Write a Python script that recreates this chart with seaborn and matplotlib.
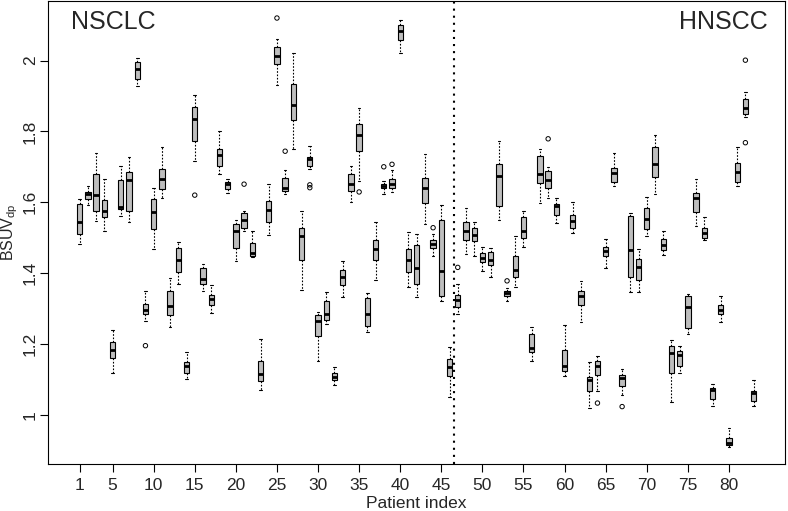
import matplotlib.pyplot as plt
import numpy as np
import pandas as pd
import seaborn as sns


# five-number summaries per patient
patients = np.arange(1, 84)
whisker_low = [1.483, 1.592, 1.547, 1.519, 1.117, 1.561, 1.543, 1.927, 1.264, 1.467,
               1.613, 1.249, 1.369, 1.101, 1.716, 1.350, 1.286, 1.679, 1.627, 1.435,
               1.519, 1.446, 1.070, 1.507, 1.932, 1.622, 1.751, 1.352, 1.693, 1.151,
               1.256, 1.085, 1.333, 1.601, 1.660, 1.235, 1.380, 1.622, 1.630, 2.021,
               1.361, 1.333, 1.538, 1.449, 1.322, 1.050, 1.284, 1.453, 1.449, 1.406,
               1.388, 1.549, 1.322, 1.361, 1.474, 1.153, 1.597, 1.611, 1.540, 1.108,
               1.513, 1.263, 1.019, 1.066, 1.413, 1.646, 1.056, 1.347, 1.347, 1.505,
               1.624, 1.451, 1.036, 1.117, 1.228, 1.533, 1.494, 1.024, 1.261, 0.909,
               1.646, 1.840, 1.024]
q1 = [1.510, 1.610, 1.574, 1.559, 1.159, 1.580, 1.575, 1.948, 1.284, 1.524,
      1.637, 1.282, 1.404, 1.118, 1.774, 1.369, 1.311, 1.702, 1.637, 1.472,
      1.526, 1.449, 1.094, 1.543, 1.989, 1.632, 1.832, 1.437, 1.702, 1.221,
      1.268, 1.099, 1.366, 1.632, 1.744, 1.250, 1.437, 1.639, 1.639, 2.059,
      1.402, 1.369, 1.597, 1.472, 1.336, 1.108, 1.305, 1.494, 1.491, 1.430,
      1.422, 1.588, 1.336, 1.388, 1.498, 1.176, 1.653, 1.639, 1.563, 1.123,
      1.528, 1.311, 1.066, 1.113, 1.447, 1.657, 1.081, 1.388, 1.380, 1.524,
      1.672, 1.465, 1.118, 1.137, 1.245, 1.571, 1.498, 1.045, 1.284, 0.914,
      1.657, 1.848, 1.040]
median = [1.543, 1.624, 1.620, 1.575, 1.184, 1.587, 1.662, 1.976, 1.297, 1.571,
          1.665, 1.306, 1.437, 1.137, 1.836, 1.383, 1.327, 1.732, 1.651, 1.519,
          1.549, 1.456, 1.115, 1.577, 2.012, 1.639, 1.874, 1.505, 1.721, 1.266,
          1.284, 1.106, 1.388, 1.651, 1.789, 1.284, 1.467, 1.645, 1.651, 2.084,
          1.436, 1.413, 1.639, 1.482, 1.405, 1.134, 1.324, 1.519, 1.507, 1.442,
          1.436, 1.674, 1.344, 1.408, 1.519, 1.188, 1.679, 1.662, 1.590, 1.137,
          1.547, 1.336, 1.099, 1.137, 1.461, 1.683, 1.103, 1.465, 1.416, 1.552,
          1.707, 1.480, 1.174, 1.170, 1.305, 1.611, 1.513, 1.070, 1.297, 0.920,
          1.685, 1.867, 1.061]
q3 = [1.594, 1.630, 1.679, 1.606, 1.205, 1.662, 1.685, 1.995, 1.313, 1.610,
      1.693, 1.350, 1.472, 1.148, 1.868, 1.413, 1.338, 1.749, 1.657, 1.538,
      1.569, 1.484, 1.153, 1.604, 2.037, 1.669, 1.934, 1.528, 1.729, 1.282,
      1.320, 1.118, 1.408, 1.679, 1.821, 1.331, 1.493, 1.651, 1.665, 2.099,
      1.467, 1.479, 1.667, 1.493, 1.550, 1.158, 1.339, 1.543, 1.526, 1.456,
      1.460, 1.707, 1.350, 1.449, 1.559, 1.228, 1.730, 1.688, 1.596, 1.183,
      1.564, 1.350, 1.106, 1.153, 1.474, 1.696, 1.113, 1.561, 1.439, 1.585,
      1.757, 1.496, 1.195, 1.179, 1.336, 1.627, 1.528, 1.075, 1.310, 0.935,
      1.710, 1.892, 1.068]
whisker_high = [1.610, 1.646, 1.738, 1.665, 1.239, 1.702, 1.728, 2.007, 1.350, 1.641,
                1.757, 1.386, 1.489, 1.176, 1.902, 1.425, 1.366, 1.801, 1.665, 1.549,
                1.575, 1.519, 1.214, 1.652, 2.062, 1.691, 2.021, 1.574, 1.759, 1.289,
                1.347, 1.134, 1.433, 1.702, 1.867, 1.345, 1.543, 1.660, 1.690, 2.115,
                1.517, 1.510, 1.735, 1.511, 1.592, 1.190, 1.369, 1.585, 1.545, 1.474,
                1.470, 1.774, 1.359, 1.505, 1.575, 1.249, 1.751, 1.700, 1.611, 1.254,
                1.601, 1.378, 1.150, 1.167, 1.496, 1.740, 1.129, 1.569, 1.469, 1.615,
                1.789, 1.519, 1.211, 1.195, 1.341, 1.665, 1.557, 1.087, 1.336, 0.962,
                1.757, 1.911, 1.099]
outlier_patient = [9, 15, 21, 25, 26, 29, 29, 35, 38, 39, 44, 47, 53, 58, 64, 67, 82, 82]
outlier_value = [1.195, 1.620, 1.651, 2.120, 1.744, 1.649, 1.641, 1.629, 1.700, 1.707,
                 1.528, 1.416, 1.378, 1.779, 1.033, 1.023, 2.001, 1.768]

n_nsclc = 46
x_ticks = [1] + list(range(5, 81, 5))
y_ticks = [1, 1.2, 1.4, 1.6, 1.8, 2]
y_ticklabels = ["1", "1.2", "1.4", "1.6", "1.8", "2"]

sns.set_style("ticks")
plt.rcParams["font.family"] = ["Liberation Sans", "DejaVu Sans"]
plt.rcParams["mathtext.fontset"] = "custom"
plt.rcParams["mathtext.rm"] = "Liberation Sans"
plt.rcParams["axes.edgecolor"] = "black"
plt.rcParams["axes.linewidth"] = 0.8

# with only five values per patient and whis=inf, seaborn puts the quartiles
# and whisker ends exactly on the summary values
summary = pd.DataFrame({"patient": patients, "wl": whisker_low, "q1": q1,
                        "med": median, "q3": q3, "wh": whisker_high})
long = summary.melt(id_vars="patient", value_name="bsuv")

fig = plt.figure(figsize=(7.88, 5.11), dpi=100)
ax = fig.add_axes([0.0613, 0.092, 0.9349, 0.906])

sns.boxplot(data=long, x="patient", y="bsuv", native_scale=True, whis=np.inf,
            width=0.65, color="#bebebe", linecolor="black", linewidth=0.8,
            medianprops=dict(linewidth=2),
            whiskerprops=dict(linestyle=(0, (1.5, 1.5))),
            ax=ax)
sns.scatterplot(x=outlier_patient, y=outlier_value, marker="o", s=10,
                facecolors="none", edgecolor="black", linewidth=0.7,
                zorder=3, ax=ax)

ax.axvline(n_nsclc + 0.5, color="black", linestyle=(0, (1, 2.4)), linewidth=1.5)

ax.set_xlim(-2.82, 86.82)
ax.set_ylim(0.861, 2.168)
ax.set_xticks(x_ticks)
ax.set_xticklabels([str(t) for t in x_ticks])
ax.set_yticks(y_ticks)
ax.set_yticklabels(y_ticklabels, rotation=90, va="center")
ax.tick_params(direction="out", length=6, width=0.8, labelsize=12.5, color="black")
ax.tick_params(axis="y", pad=1.5)
ax.tick_params(axis="x", pad=4)

ax.set_xlabel("Patient index", fontsize=12.5, labelpad=2)
ax.set_ylabel("BSUV$_{\\mathrm{dp}}$", fontsize=11.5, va="center")
ax.yaxis.set_label_coords(-0.052, 0.5)

ax.text(0.0304, 0.9395, "NSCLC", transform=ax.transAxes, fontsize=18,
        ha="left", va="baseline")
ax.text(0.976, 0.9395, "HNSCC", transform=ax.transAxes, fontsize=18,
        ha="right", va="baseline")

fig.savefig("out.png", dpi=100)
